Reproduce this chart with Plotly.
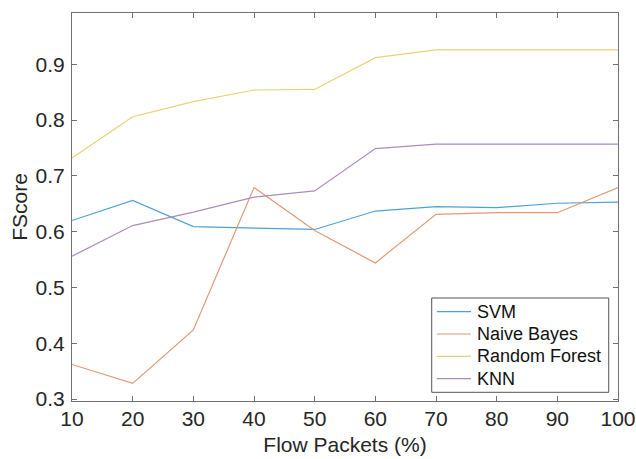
import plotly.graph_objects as go

x_values = [10, 20, 30, 40, 50, 60, 70, 80, 90, 100]
svm = [0.620, 0.656, 0.609, 0.607, 0.604, 0.637, 0.645, 0.643, 0.651, 0.653]
naive_bayes = [0.362, 0.328, 0.424, 0.679, 0.602, 0.544, 0.631, 0.634, 0.634, 0.679]
random_forest = [0.732, 0.806, 0.833, 0.854, 0.855, 0.912, 0.926, 0.926, 0.926, 0.926]
knn = [0.556, 0.611, 0.635, 0.662, 0.673, 0.749, 0.757, 0.757, 0.757, 0.757]

series = [
    ("SVM", svm, "#4da3cf"),
    ("Naive Bayes", naive_bayes, "#dd9a78"),
    ("Random Forest", random_forest, "#e6d27a"),
    ("KNN", knn, "#ad8bbb"),
]

font = "Liberation Sans, Arial, Helvetica, sans-serif"

fig = go.Figure()
for name, vals, color in series:
    fig.add_trace(go.Scatter(x=x_values, y=vals, mode="lines", name=name,
                             line=dict(color=color, width=1.2), showlegend=False))

# Legend box drawn in paper coordinates (MATLAB-style compact legend)
shapes = [dict(type="rect", xref="paper", yref="paper",
               x0=0.6588, x1=0.983, y0=0.0224, y1=0.2655,
               line=dict(color="#555555", width=1), fillcolor="white", layer="above")]
annotations = []
row_top, row_step = 0.2302, 0.0575
for i, (name, _, color) in enumerate(series):
    yy = row_top - i * row_step
    shapes.append(dict(type="line", xref="paper", yref="paper",
                       x0=0.668, x1=0.7308, y0=yy, y1=yy,
                       line=dict(color=color, width=1.2), layer="above"))
    annotations.append(dict(text=name, xref="paper", yref="paper", x=0.738, y=yy,
                            xanchor="left", yanchor="middle", showarrow=False,
                            font=dict(family=font, size=18, color="#111111")))

axis_common = dict(
    showline=True, linecolor="#707070", linewidth=1, mirror="ticks",
    ticks="inside", ticklen=5, tickcolor="#707070", tickwidth=1,
    showgrid=False, zeroline=False, automargin=False,
    tickfont=dict(family=font, size=21, color="#262626"),
)
fig.update_layout(
    width=636, height=459,
    margin=dict(l=72, r=18, t=13, b=58),
    paper_bgcolor="white", plot_bgcolor="white",
    xaxis=dict(range=[10, 100], tickvals=[10, 20, 30, 40, 50, 60, 70, 80, 90, 100],
               ticklabelstandoff=-1,
               title=dict(text="Flow Packets (%)", font=dict(family=font, size=21, color="#262626"), standoff=8),
               **axis_common),
    yaxis=dict(range=[0.2965, 0.992], tickvals=[0.3, 0.4, 0.5, 0.6, 0.7, 0.8, 0.9],
               ticktext=["0.3", "0.4", "0.5", "0.6", "0.7", "0.8", "0.9"],
               ticklabelstandoff=2,
               title=dict(text="FScore", font=dict(family=font, size=21, color="#262626"), standoff=2),
               **axis_common),
    shapes=shapes,
    annotations=annotations,
    showlegend=False,
)
fig.write_html("out.html", config={"displayModeBar": False},
               post_script="document.body.style.margin='0px';")
